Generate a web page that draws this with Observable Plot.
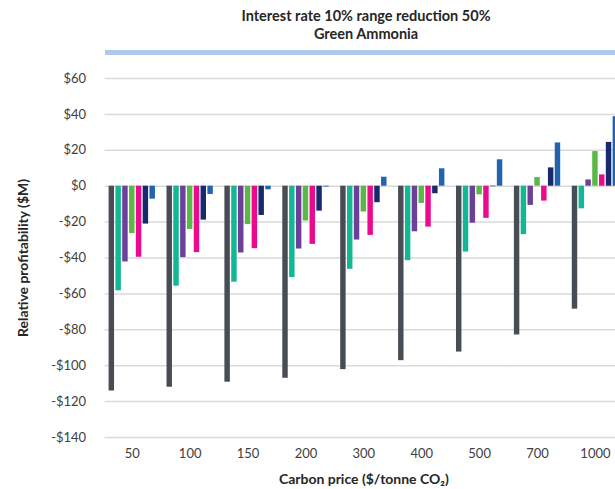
<!DOCTYPE html>
<html><head><meta charset="utf-8">
<script src="https://cdn.jsdelivr.net/npm/d3@7"></script>
<script src="https://cdn.jsdelivr.net/npm/@observablehq/plot@0.6"></script>
<style>
html,body{margin:0;padding:0;background:#fff;overflow:hidden;width:615px;height:489px}
body{font-family:Lato,sans-serif}
#header{position:relative;height:58px;width:615px}
.t{position:absolute;left:0;width:732px;text-align:center;font-weight:bold;font-size:14.5px;color:#262626;line-height:17px}
#band{position:absolute;left:105px;top:50px;width:520px;height:5px;background:#aec9e9}
#chart svg{max-width:none !important;display:block}
#chart [aria-label$="axis label"] text{font-weight:bold;fill:#262626;font-size:14px}
</style></head><body>
<div id="header">
  <div class="t" style="top:7px">Interest rate 10% range reduction 50%</div>
  <div class="t" style="top:25px">Green Ammonia</div>
  <div id="band"></div>
</div>
<div id="chart"></div>
<script>
const prices = ["50","100","150","200","300","400","500","700","1000"];
const seriesNames = ["Series 1","Series 2","Series 3","Series 4","Series 5","Series 6","Series 7"];
const seriesColors = ["#474c55","#12b795","#6c3f98","#5ab946","#ec0a8c","#172a6b","#2163ae"];
const s1 = [-114.1, -112.0, -109.2, -107.0, -102.2, -97.2, -92.4, -82.9, -68.5];
const s2 = [-58.3, -55.7, -53.5, -50.9, -46.3, -41.5, -36.7, -27.0, -12.6];
const s3 = [-42.2, -39.8, -37.2, -35.0, -30.0, -25.4, -20.6, -10.7, 3.5];
const s4 = [-26.4, -24.1, -21.4, -19.4, -14.4, -9.6, -4.8, 4.8, 19.3];
const s5 = [-39.6, -37.0, -34.8, -32.4, -27.4, -22.8, -17.9, -8.3, 6.3];
const s6 = [-21.1, -18.9, -16.3, -13.9, -9.2, -4.2, -0.3, 10.2, 24.4];
const s7 = [-7.2, -4.6, -2.0, -0.5, 5.0, 9.7, 14.7, 24.1, 38.7];
const yTicks = [-140, -120, -100, -80, -60, -40, -20, 0, 20, 40, 60];

const seriesValues = [s1, s2, s3, s4, s5, s6, s7];
const data = prices.flatMap((p, i) => seriesNames.map((s, j) => ({price: p, series: s, value: seriesValues[j][i]})));
const fmt = d => d < 0 ? `-$${-d}` : `$${d}`;

const chart = Plot.plot({
  width: 618.1, height: 431,
  marginTop: 20, marginBottom: 52, marginLeft: 108.6, marginRight: 0,
  style: {fontFamily: "Lato, sans-serif", fontSize: "13px", color: "#404040", background: "white"},
  fx: {domain: prices, paddingInner: 0.2, paddingOuter: 0, round: false, label: null},
  x: {domain: seriesNames, axis: null, paddingInner: 0.2, paddingOuter: 0, round: false},
  y: {domain: [-140, 60]},
  color: {domain: seriesNames, range: seriesColors},
  marks: [
    Plot.ruleY(yTicks, {stroke: "#dadada", strokeWidth: 1.5, insetLeft: -4, insetRight: -8}),
    Plot.barY(data, {fx: "price", x: "series", y: "value", fill: "series", inset: 0}),
    Plot.axisY(yTicks, {tickSize: 0, tickPadding: 23, tickFormat: fmt, label: "Relative profitability ($M)", labelAnchor: "center", labelOffset: 91, labelArrow: "none"}),
    Plot.axisFx({anchor: "bottom", tickSize: 0, tickPadding: 11, label: "Carbon price ($/tonne CO₂)", labelAnchor: "center", labelOffset: 47, labelArrow: "none"})
  ]
});
document.getElementById("chart").appendChild(chart);
</script>
</body></html>
